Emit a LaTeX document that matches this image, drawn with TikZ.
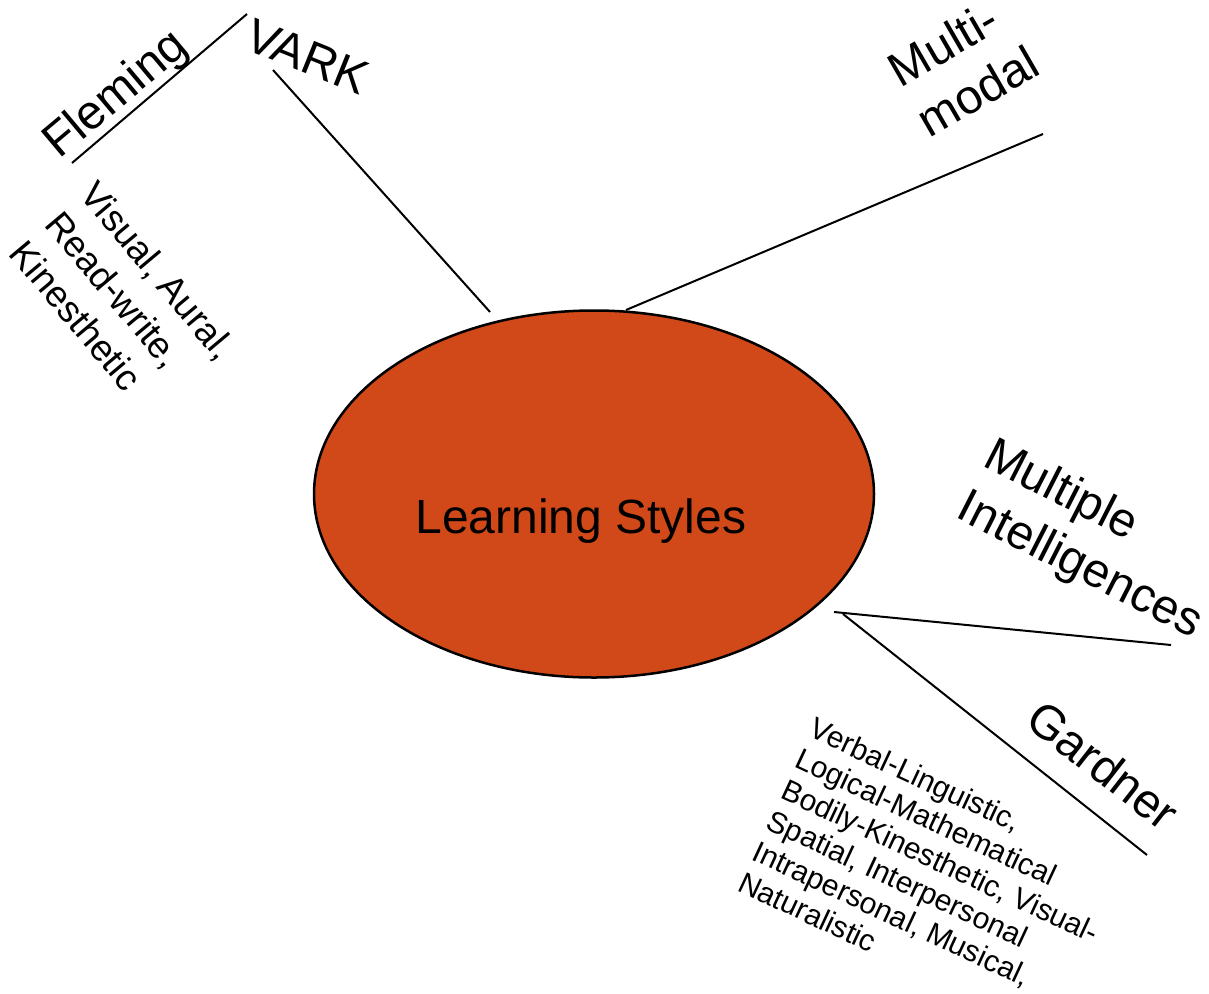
\documentclass[tikz,border=0pt]{standalone}
\usepackage{fontspec}
\setmainfont{Liberation Sans}
\usetikzlibrary{shapes.geometric}
\definecolor{lsorange}{RGB}{209,73,24}
\begin{document}
\begin{tikzpicture}[x=1pt,y=-1pt,
  conn/.style={line width=2pt},
  ttl/.style={inner sep=0pt, align=left, font=\fontsize{48}{58}\selectfont},
  det/.style={inner sep=0pt, align=left, font=\fontsize{37}{46}\selectfont},
  gdet/.style={inner sep=0pt, align=left, font=\fontsize{30}{34}\selectfont}]
\useasboundingbox (0,0) rectangle (1209,993);
\node[ellipse, draw, line width=2.5pt, fill=lsorange, minimum width=560pt, minimum height=367pt, inner sep=0pt] (ls) at (594,494) {};
\node[ttl, anchor=center] (lstext) at (581,521) {Learning Styles};
% titles
\node[ttl, anchor=base west, rotate=-22] (vark) at (242,48) {VARK};
\node[ttl, anchor=base west, rotate=40] (fleming) at (59,160) {Fleming};
\node[det, anchor=north west, rotate=-50] (flemdet) at (99,178) {Visual, Aural,\\Read-write,\\Kinesthetic};
\node[ttl, anchor=north west, rotate=30] (multimodal) at (883,58) {Multi-\\modal};
\node[ttl, anchor=north west, rotate=-27] (mi) at (997,434) {Multiple\\Intelligences};
\node[ttl, anchor=base west, rotate=-38] (gardner) at (1023,724) {Gardner};
\node[gdet, anchor=north west, rotate=-25] (garddet) at (817,716) {Verbal-Linguistic,\\Logical-Mathematical\\Bodily-Kinesthetic, Visual-\\Spatial, Interpersonal\\Intrapersonal, Musical,\\Naturalistic};
% connector end points
\coordinate (varkA) at (273,70);
\coordinate (varkB) at (490,312);
\coordinate (flemA) at (72,163);
\coordinate (flemB) at (247,14);
\coordinate (mmA) at (626,310);
\coordinate (mmB) at (1043,134);
\coordinate (miA) at (834,612);
\coordinate (miB) at (1171,645);
\coordinate (gA) at (843,614);
\coordinate (gB) at (1147,855);
\draw[conn] (varkA) -- (varkB);
\draw[conn] (flemA) -- (flemB);
\draw[conn] (mmA) -- (mmB);
\draw[conn] (miA) -- (miB);
\draw[conn] (gA) -- (gB);
\end{tikzpicture}
\end{document}
